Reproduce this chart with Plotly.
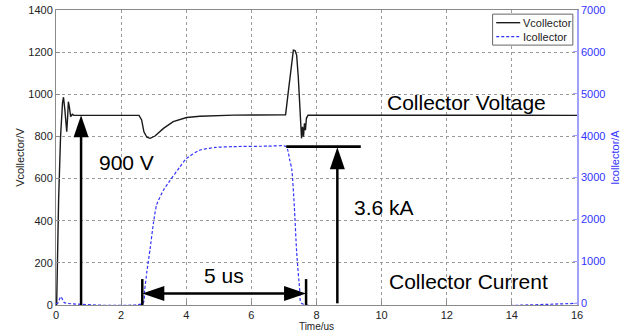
import plotly.graph_objects as go

# ---- data ----
t_volt = [0.0, 0.02, 0.08, 0.14, 0.20, 0.23, 0.27, 0.33, 0.36, 0.38, 0.41, 0.45, 0.50, 0.55,
          2.55, 2.63, 2.70, 2.79, 2.89, 3.04, 3.30, 3.60, 4.01, 4.42, 5.45, 7.05,
          7.14, 7.24, 7.29, 7.34, 7.39, 7.44, 7.47, 7.51, 7.54, 7.57, 7.60, 7.63, 7.66, 7.69, 7.74, 16.0]
v_collector = [0, 0, 500, 800, 960, 986, 930, 822, 900, 965, 940, 894, 905, 900,
               900, 878, 822, 796, 791, 802, 838, 870, 890, 896, 901, 903,
               1020, 1163, 1210, 1208, 1186, 1083, 988, 846, 791, 846, 799, 862, 830, 886, 901, 900]

t_curr = [0.0, 0.05, 0.15, 0.25, 0.32, 2.67, 2.72, 2.79, 2.89, 2.99, 3.09, 3.30, 3.50, 3.80,
          4.00, 4.40, 4.90, 5.45, 6.50, 7.05, 7.12, 7.17, 7.24, 7.32, 7.39, 7.49, 7.54, 16.0]
i_collector = [0, 0, 160, 20, 0, 0, 300, 750, 1300, 1900, 2350, 2700, 2930, 3250,
               3450, 3650, 3720, 3740, 3750, 3750, 3650, 3450, 3200, 2300, 1230, 280, 0, 0]

x_ticks = list(range(0, 17, 2))
v_ticks = list(range(0, 1401, 200))
i_ticks = list(range(0, 7001, 1000))

# annotation anchors (data units)
arrow_900_x, arrow_900_tip = 0.77, 900
arrow_ka_x, arrow_ka_tip, ka_level = 8.64, 3725, 3740
ka_line_x = [7.07, 9.36]
span_x = [2.65, 7.68]
span_y = 55
span_tick_top = 123

FONT = "Liberation Sans, Arial, sans-serif"
BLUE = "#3333ff"
AXBLUE = "#a0a0ff"
GRAY = "#8a8a8a"

fig = go.Figure()
fig.add_trace(go.Scatter(x=t_volt, y=v_collector, mode="lines", name="Vcollector",
                         line=dict(color="#1a1a1a", width=1.4), showlegend=False))
fig.add_trace(go.Scatter(x=t_curr, y=i_collector, mode="lines", name="Icollector", yaxis="y2",
                         line=dict(color=BLUE, width=1.2, dash="3px,2px", shape="spline", smoothing=0.6),
                         showlegend=False))

shapes = []
LW = 2.5
# 900 V arrow
shapes.append(dict(type="line", xref="x", yref="y", x0=arrow_900_x, x1=arrow_900_x,
                   y0=0, y1=arrow_900_tip - 60, line=dict(color="black", width=LW)))
shapes.append(dict(type="path", xref="x", yref="y", xsizemode="pixel", ysizemode="pixel",
                   xanchor=arrow_900_x, yanchor=arrow_900_tip,
                   path="M0,0 L-7.5,-22 L7.5,-22 Z", fillcolor="black", line=dict(width=0)))
# 3.6 kA arrow + level line
shapes.append(dict(type="line", xref="x", yref="y2", x0=ka_line_x[0], x1=ka_line_x[1],
                   y0=ka_level, y1=ka_level, line=dict(color="black", width=2.7)))
shapes.append(dict(type="line", xref="x", yref="y2", x0=arrow_ka_x, x1=arrow_ka_x,
                   y0=0, y1=arrow_ka_tip - 300, line=dict(color="black", width=LW)))
shapes.append(dict(type="path", xref="x", yref="y2", xsizemode="pixel", ysizemode="pixel",
                   xanchor=arrow_ka_x, yanchor=arrow_ka_tip,
                   path="M0,0 L-7.5,-22 L7.5,-22 Z", fillcolor="black", line=dict(width=0)))
# 5 us double arrow
shapes.append(dict(type="line", xref="x", yref="y", x0=span_x[0] + 0.3, x1=span_x[1] - 0.3,
                   y0=span_y, y1=span_y, line=dict(color="black", width=LW)))
shapes.append(dict(type="path", xref="x", yref="y", xsizemode="pixel", ysizemode="pixel",
                   xanchor=span_x[0], yanchor=span_y,
                   path="M0,0 L22,7.5 L22,-7.5 Z", fillcolor="black", line=dict(width=0)))
shapes.append(dict(type="path", xref="x", yref="y", xsizemode="pixel", ysizemode="pixel",
                   xanchor=span_x[1], yanchor=span_y,
                   path="M0,0 L-22,7.5 L-22,-7.5 Z", fillcolor="black", line=dict(width=0)))
for sx in span_x:
    shapes.append(dict(type="line", xref="x", yref="y", x0=sx, x1=sx, y0=0, y1=span_tick_top,
                       line=dict(color="black", width=LW)))

# manual legend (paper coords)
shapes.append(dict(type="rect", xref="paper", yref="paper", x0=0.838, x1=0.992, y0=0.881, y1=0.986,
                   fillcolor="white", line=dict(color="#666666", width=1)))
shapes.append(dict(type="line", xref="paper", yref="paper", x0=0.845, x1=0.891, y0=0.957, y1=0.957,
                   line=dict(color="#1a1a1a", width=1.4)))
shapes.append(dict(type="line", xref="paper", yref="paper", x0=0.845, x1=0.891, y0=0.9095, y1=0.9095,
                   line=dict(color=BLUE, width=1.2, dash="3px,2px")))

big = dict(family=FONT, size=21, color="black")
annotations = [
    dict(x=1.26, y=674, xref="x", yref="y", text="900 V", showarrow=False,
         xanchor="left", yanchor="middle", font=big),
    dict(x=9.09, y=465, xref="x", yref="y", text="3.6 kA", showarrow=False,
         xanchor="left", yanchor="middle", font=big),
    dict(x=5.16, y=142, xref="x", yref="y", text="5 us", showarrow=False,
         xanchor="center", yanchor="middle", font=big),
    dict(x=10.1, y=962, xref="x", yref="y", text="Collector Voltage", showarrow=False,
         xanchor="left", yanchor="middle", font=big),
    dict(x=10.17, y=112, xref="x", yref="y", text="Collector Current", showarrow=False,
         xanchor="left", yanchor="middle", font=big),
    dict(x=0.893, y=0.957, xref="paper", yref="paper", text="Vcollector", showarrow=False,
         xanchor="left", yanchor="middle", font=dict(family=FONT, size=11, color="#222")),
    dict(x=0.893, y=0.9095, xref="paper", yref="paper", text="Icollector", showarrow=False,
         xanchor="left", yanchor="middle", font=dict(family=FONT, size=11, color="#222")),
]

tickfont = dict(family=FONT, size=11, color="#222")
fig.update_layout(
    width=624, height=332,
    margin=dict(l=56, r=47, t=10, b=27),
    paper_bgcolor="white", plot_bgcolor="white",
    font=dict(family=FONT),
    shapes=shapes, annotations=annotations,
    xaxis=dict(range=[0, 16], tickvals=x_ticks, ticks="inside", ticklen=4, tickcolor=GRAY,
               showline=True, linecolor=GRAY, linewidth=1, mirror=True, automargin=False,
               showgrid=True, gridcolor="#9a9a9a", griddash="dot", gridwidth=1, zeroline=False,
               tickfont=tickfont,
               title=dict(text="Time/us", font=dict(family=FONT, size=10, color="#222"), standoff=10)),
    yaxis=dict(range=[0, 1400], tickvals=v_ticks, ticks="inside", ticklen=4, tickcolor=GRAY,
               showline=True, linecolor=GRAY, linewidth=1, automargin=False,
               showgrid=True, gridcolor="#9a9a9a", griddash="dot", gridwidth=1, zeroline=False,
               tickfont=tickfont,
               title=dict(text="Vcollector/V", font=dict(family=FONT, size=11, color="#222"), standoff=1)),
    yaxis2=dict(range=[-40, 7000], tickvals=i_ticks, overlaying="y", side="right", automargin=False,
                ticks="inside", ticklen=4, tickcolor=AXBLUE,
                showline=True, linecolor=AXBLUE, linewidth=1.5, showgrid=False, zeroline=False,
                tickfont=dict(family=FONT, size=11, color=BLUE),
                title=dict(text="Icollector/A", font=dict(family=FONT, size=11, color=BLUE), standoff=7)),
)

fig.write_html("out.html")
